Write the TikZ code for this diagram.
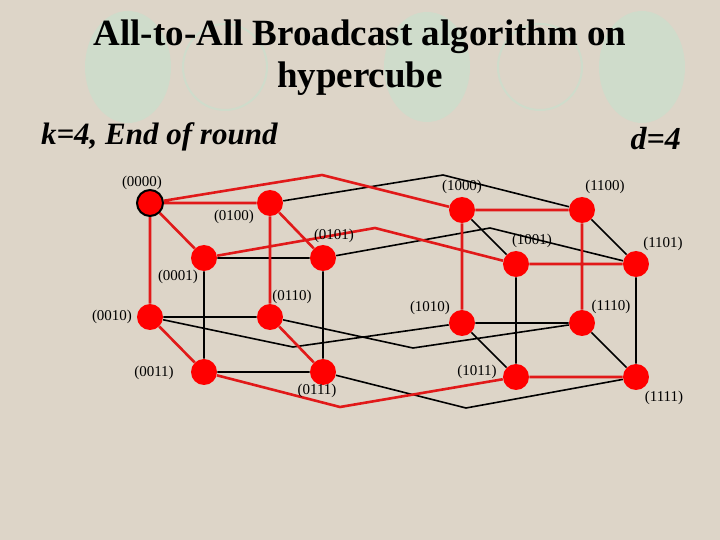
\documentclass[tikz,border=0pt]{standalone}
\usepackage{fontspec}
\setmainfont{Liberation Serif}
\usetikzlibrary{backgrounds}
\definecolor{bgc}{RGB}{221,213,200}
\definecolor{decoc}{RGB}{207,220,203}
\definecolor{redc}{RGB}{225,25,25}
\begin{document}
\begin{tikzpicture}[x=0.5pt,y=-0.5pt,
  v/.style={circle,fill=red,minimum size=13pt,inner sep=0pt},
  lab/.style={font=\fontsize{7.5}{9}\selectfont},
  re/.style={draw=redc,line width=1.3pt},
  be/.style={draw=black,line width=0.8pt},
  deco/.style={fill=decoc},
  decoo/.style={draw=decoc,line width=1pt}]
\useasboundingbox (0,0) rectangle (720,540);
% nodes
\node[v,draw=black,line width=1pt] (a0000) at (150,203) {};
\node[v] (a0100) at (270,203) {};
\node[v] (a0001) at (204,258) {};
\node[v] (a0101) at (323,258) {};
\node[v] (a0010) at (150,317) {};
\node[v] (a0110) at (270,317) {};
\node[v] (a0011) at (204,372) {};
\node[v] (a0111) at (323,372) {};
\node[v] (a1000) at (462,210) {};
\node[v] (a1100) at (582,210) {};
\node[v] (a1001) at (516,264) {};
\node[v] (a1101) at (636,264) {};
\node[v] (a1010) at (462,323) {};
\node[v] (a1110) at (582,323) {};
\node[v] (a1011) at (516,377) {};
\node[v] (a1111) at (636,377) {};
% labels
\node[lab] (l0000) at (142,183) {(0000)};
\node[lab] (l0100) at (234,217) {(0100)};
\node[lab] (l0001) at (178,277) {(0001)};
\node[lab] (l0101) at (334,236) {(0101)};
\node[lab] (l0010) at (112,317) {(0010)};
\node[lab] (l0110) at (292,297) {(0110)};
\node[lab] (l0011) at (154,373) {(0011)};
\node[lab] (l0111) at (317,391) {(0111)};
\node[lab] (l1000) at (462,187) {(1000)};
\node[lab] (l1100) at (605,187) {(1100)};
\node[lab] (l1001) at (532,241) {(1001)};
\node[lab] (l1101) at (663,244) {(1101)};
\node[lab] (l1010) at (430,308) {(1010)};
\node[lab] (l1110) at (611,307) {(1110)};
\node[lab] (l1011) at (477,372) {(1011)};
\node[lab] (l1111) at (664,398) {(1111)};
\node[font=\bfseries\fontsize{18.5}{21}\selectfont,align=center] (title) at (360,58) {All-to-All Broadcast algorithm on\\hypercube};
\node[font=\bfseries\itshape\fontsize{15.5}{18}\selectfont,anchor=west] (k) at (34,137) {k=4, End of round};
\node[font=\bfseries\itshape\fontsize{16}{18}\selectfont,anchor=east] (d) at (688,139) {d=4};
\coordinate (b1) at (322,175);
\coordinate (b2) at (443,175);
\coordinate (b3) at (375,228);
\coordinate (b4) at (490,228);
\coordinate (b5) at (293,347);
\coordinate (b6) at (413,348);
\coordinate (b7) at (340,407);
\coordinate (b8) at (466,408);
\begin{scope}[on background layer]
\fill[bgc] (0,0) rectangle (720,540);
\fill[deco] (128,67) ellipse [x radius=43,y radius=56];
\draw[decoo] (225,67) ellipse [x radius=42,y radius=43];
\fill[deco] (427,67) ellipse [x radius=43,y radius=55];
\draw[decoo] (540,67) ellipse [x radius=42,y radius=43];
\fill[deco] (642,67) ellipse [x radius=43,y radius=56];
\path[be] (a0001) -- (a0101) (a0001) -- (a0011) (a0101) -- (a0111) (a0010) -- (a0110) (a0011) -- (a0111)
 (a1000) -- (a1001) (a1100) -- (a1101) (a1001) -- (a1011) (a1101) -- (a1111) (a1010) -- (a1110) (a1010) -- (a1011) (a1110) -- (a1111)
 (a0100) -- (b2) -- (a1100) (a0101) -- (b4) -- (a1101) (a0010) -- (b5) -- (a1010) (a0110) -- (b6) -- (a1110) (a0111) -- (b8) -- (a1111);
\path[re] (a0000) -- (a0100) (a0000) -- (a0001) (a0000) -- (a0010) (a0100) -- (a0101) (a0100) -- (a0110)
 (a0010) -- (a0011) (a0110) -- (a0111)
 (a1000) -- (a1100) (a1000) -- (a1010) (a1100) -- (a1110) (a1001) -- (a1101) (a1011) -- (a1111)
 (a0000) -- (b1) -- (a1000) (a0001) -- (b3) -- (a1001) (a0011) -- (b7) -- (a1011);
\end{scope}
\end{tikzpicture}
\end{document}
